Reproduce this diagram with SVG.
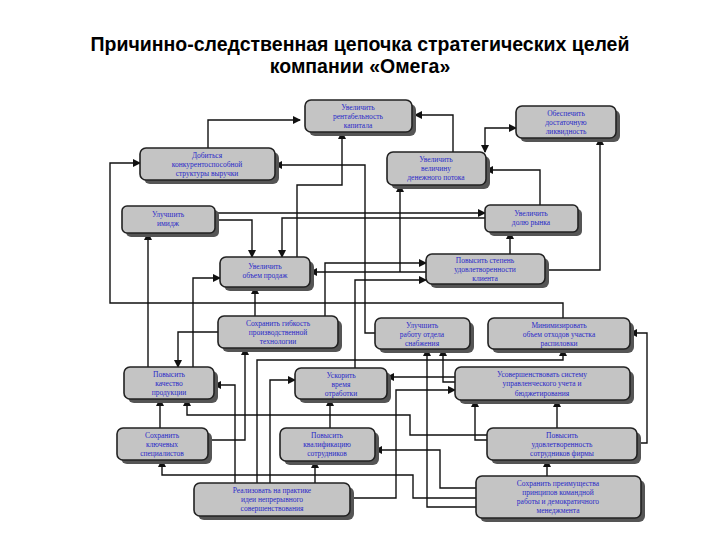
<svg xmlns="http://www.w3.org/2000/svg" width="720" height="540" viewBox="0 0 720 540">
<style>
.t{font-family:"Liberation Sans",Arial,sans-serif;font-weight:bold;font-size:19.5px;fill:#000;text-anchor:middle}
.b{fill:#c4c4c4;stroke:#222;stroke-width:1.6}
.s{fill:#555}
.l{font-family:"Liberation Serif","Times New Roman",serif;font-size:7.5px;fill:#2a2ac8;text-anchor:middle}
.c{fill:none;stroke:#111;stroke-width:1.4;marker-end:url(#a)}
</style>
<defs><marker id="a" markerWidth="8" markerHeight="8" refX="7" refY="4" orient="auto" markerUnits="userSpaceOnUse"><path d="M0,0 L8,4 L0,8Z" fill="#111"/></marker>
<marker id="s" markerWidth="8" markerHeight="8" refX="1" refY="4" orient="auto" markerUnits="userSpaceOnUse"><path d="M8,0 L0,4 L8,8Z" fill="#111"/></marker></defs>
<rect width="720" height="540" fill="#fff"/>
<text class="t" x="360" y="51">Причинно-следственная цепочка стратегических целей</text>
<text class="t" x="360" y="73">компании «Омега»</text>
<g id="connectors">
<path class="c" d="M563,318 V303 H110 V163 H140"/>
<path class="c" d="M208,148 V120 H300"/>
<path class="c" d="M453,152 V115 H415"/>
<path class="c" style="marker-start:url(#s)" d="M485,152 V128 H516"/>
<path class="c" d="M545,270 H600 V138"/>
<path class="c" d="M540,205 V170 H486"/>
<path class="c" d="M510,254 V232"/>
<path class="c" d="M215,213 H485"/>
<path class="c" d="M215,220 H252 V257"/>
<path class="c" d="M485,218 H282 V257"/>
<path class="c" d="M297,257 V185 H342 V132"/>
<path class="c" d="M377,333 H365 V165 H275"/>
<path class="c" d="M325,316 V263 H426"/>
<path class="c" d="M355,368 V280 H426"/>
<path class="c" d="M426,272 H310"/>
<path class="c" d="M400,272 V185"/>
<path class="c" d="M148,367 V233"/>
<path class="c" d="M193,367 V278 H220"/>
<path class="c" d="M255,316 V287"/>
<path class="c" d="M218,332 H178 V367"/>
<path class="c" d="M160,428 V399"/>
<path class="c" d="M208,440 H245 V348"/>
<path class="c" d="M257,483 V360 H563 V349"/>
<path class="c" d="M235,483 V385 H214"/>
<path class="c" d="M270,483 V380 H295"/>
<path class="c" d="M315,483 V461"/>
<path class="c" d="M330,428 V399"/>
<path class="c" d="M455,377 H387"/>
<path class="c" d="M455,382 H443 V349"/>
<path class="c" d="M476,507 H427 V349"/>
<path class="c" d="M557,428 V400"/>
<path class="c" d="M637,443 H647 V333 H630"/>
<path class="c" d="M547,476 V460"/>
<path class="c" d="M487,435 H410 V415 H187 V399"/>
<path class="c" d="M487,440 H475 V400"/>
<path class="c" d="M476,488 H440 V450 H375"/>
<path class="c" d="M476,498 H413 V475 H162 V460"/>
<path class="c" d="M350,498 H396 V390 H455"/>
</g>
<g id="n1"><rect class="s" x="309" y="104" width="107" height="32" rx="6"/><rect class="b" x="305" y="100" width="107" height="32" rx="6"/><text class="l" x="358" y="110">Увеличить</text><text class="l" x="358" y="119">рентабельность</text><text class="l" x="358" y="128">капитала</text></g>
<g id="n2"><rect class="s" x="520" y="110" width="100" height="32" rx="6"/><rect class="b" x="516" y="106" width="100" height="32" rx="6"/><text class="l" x="566" y="116">Обеспечить</text><text class="l" x="566" y="125">достаточную</text><text class="l" x="566" y="134">ликвидность</text></g>
<g id="n3"><rect class="s" x="144" y="152" width="135" height="32" rx="6"/><rect class="b" x="140" y="148" width="135" height="32" rx="6"/><text class="l" x="207" y="158">Добиться</text><text class="l" x="207" y="167">конкурентоспособной</text><text class="l" x="207" y="176">структуры выручки</text></g>
<g id="n4"><rect class="s" x="391" y="156" width="99" height="33" rx="6"/><rect class="b" x="387" y="152" width="99" height="33" rx="6"/><text class="l" x="436" y="162">Увеличить</text><text class="l" x="436" y="171">величину</text><text class="l" x="436" y="180">денежного потока</text></g>
<g id="n5"><rect class="s" x="126" y="210" width="93" height="27" rx="5"/><rect class="b" x="122" y="206" width="93" height="27" rx="5"/><text class="l" x="168" y="217">Улучшить</text><text class="l" x="168" y="226">имидж</text></g>
<g id="n6"><rect class="s" x="489" y="209" width="93" height="27" rx="5"/><rect class="b" x="485" y="205" width="93" height="27" rx="5"/><text class="l" x="531" y="216">Увеличить</text><text class="l" x="531" y="225">долю рынка</text></g>
<g id="n7"><rect class="s" x="224" y="261" width="90" height="30" rx="6"/><rect class="b" x="220" y="257" width="90" height="30" rx="6"/><text class="l" x="265" y="269">Увеличить</text><text class="l" x="265" y="278">объем продаж</text></g>
<g id="n8"><rect class="s" x="430" y="258" width="119" height="30" rx="6"/><rect class="b" x="426" y="254" width="119" height="30" rx="6"/><text class="l" x="485" y="263">Повысить степень</text><text class="l" x="485" y="272">удовлетворенности</text><text class="l" x="485" y="281">клиента</text></g>
<g id="n9"><rect class="s" x="222" y="320" width="120" height="32" rx="6"/><rect class="b" x="218" y="316" width="120" height="32" rx="6"/><text class="l" x="278" y="326">Сохранить гибкость</text><text class="l" x="278" y="335">производственной</text><text class="l" x="278" y="344">технологии</text></g>
<g id="n10"><rect class="s" x="379" y="322" width="95" height="31" rx="6"/><rect class="b" x="375" y="318" width="95" height="31" rx="6"/><text class="l" x="422" y="328">Улучшить</text><text class="l" x="422" y="337">работу отдела</text><text class="l" x="422" y="346">снабжения</text></g>
<g id="n11"><rect class="s" x="492" y="322" width="142" height="31" rx="6"/><rect class="b" x="488" y="318" width="142" height="31" rx="6"/><text class="l" x="559" y="328">Минимизировать</text><text class="l" x="559" y="337">объем отходов участка</text><text class="l" x="559" y="346">распиловки</text></g>
<g id="n12"><rect class="s" x="128" y="371" width="90" height="32" rx="6"/><rect class="b" x="124" y="367" width="90" height="32" rx="6"/><text class="l" x="169" y="377">Повысить</text><text class="l" x="169" y="386">качество</text><text class="l" x="169" y="395">продукции</text></g>
<g id="n13"><rect class="s" x="299" y="372" width="92" height="31" rx="6"/><rect class="b" x="295" y="368" width="92" height="31" rx="6"/><text class="l" x="341" y="378">Ускорить</text><text class="l" x="341" y="387">время</text><text class="l" x="341" y="396">отработки</text></g>
<g id="n14"><rect class="s" x="459" y="371" width="175" height="33" rx="6"/><rect class="b" x="455" y="367" width="175" height="33" rx="6"/><text class="l" x="542" y="377">Усовершенствовать систему</text><text class="l" x="542" y="386">управленческого учета и</text><text class="l" x="542" y="396">бюджетирования</text></g>
<g id="n15"><rect class="s" x="121" y="432" width="91" height="32" rx="6"/><rect class="b" x="117" y="428" width="91" height="32" rx="6"/><text class="l" x="162" y="438">Сохранить</text><text class="l" x="162" y="447">ключевых</text><text class="l" x="162" y="456">специалистов</text></g>
<g id="n16"><rect class="s" x="284" y="432" width="95" height="33" rx="6"/><rect class="b" x="280" y="428" width="95" height="33" rx="6"/><text class="l" x="327" y="438">Повысить</text><text class="l" x="327" y="447">квалификацию</text><text class="l" x="327" y="456">сотрудников</text></g>
<g id="n17"><rect class="s" x="491" y="432" width="150" height="32" rx="6"/><rect class="b" x="487" y="428" width="150" height="32" rx="6"/><text class="l" x="562" y="438">Повысить</text><text class="l" x="562" y="447">удовлетворенность</text><text class="l" x="562" y="456">сотрудников фирмы</text></g>
<g id="n18"><rect class="s" x="198" y="487" width="156" height="33" rx="6"/><rect class="b" x="194" y="483" width="156" height="33" rx="6"/><text class="l" x="272" y="493">Реализовать на практике</text><text class="l" x="272" y="502">идеи непрерывного</text><text class="l" x="272" y="511">совершенствования</text></g>
<g id="n19"><rect class="s" x="480" y="480" width="165" height="42" rx="6"/><rect class="b" x="476" y="476" width="165" height="42" rx="6"/><text class="l" x="558" y="486">Сохранить преимущества</text><text class="l" x="558" y="495">принципов командной</text><text class="l" x="558" y="504">работы и демократичного</text><text class="l" x="558" y="513">менеджмента</text></g>
</svg>
